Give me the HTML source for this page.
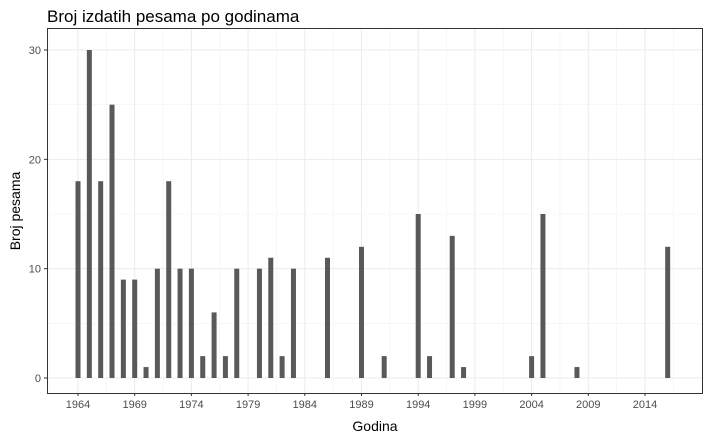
<!DOCTYPE html>
<html><head><meta charset="utf-8"><style>
body{margin:0;background:#fff;font-family:"Liberation Sans",Arial,sans-serif}
</style></head><body>
<svg id="chart" width="708" height="440" xmlns="http://www.w3.org/2000/svg">
<rect width="708" height="440" fill="#fff"/>
<text x="47" y="22" font-size="17" fill="#000">Broj izdatih pesama po godinama</text>
<g id="grid"></g><g id="bars"></g><g id="axes"></g>
<rect x="47.5" y="28.5" width="655" height="365" fill="none" stroke="#333" stroke-width="1"/>
<text x="375" y="431" font-size="14" text-anchor="middle" fill="#000">Godina</text>
<text transform="translate(20,211) rotate(-90)" font-size="14" text-anchor="middle" fill="#000">Broj pesama</text>
</svg>
<script>
const years=[1964,1965,1966,1967,1968,1969,1970,1971,1972,1973,1974,1975,1976,1977,1978,1980,1981,1982,1983,1986,1989,1991,1994,1995,1997,1998,2004,2005,2008,2016];
const counts=[18,30,18,25,9,9,1,10,18,10,10,2,6,2,10,10,11,2,10,11,12,2,15,2,13,1,2,15,1,12];
const xTicks=[1964,1969,1974,1979,1984,1989,1994,1999,2004,2009,2014];
const yTicks=[0,10,20,30];
const ns="http://www.w3.org/2000/svg";
const L=47,R=702,T=28,B=393;
const x=v=>78+(v-1964)*(567/50);
const y=v=>378-v*(328/30);
function mk(tag,attrs,parent,txt){const e=document.createElementNS(ns,tag);for(const k in attrs)e.setAttribute(k,attrs[k]);if(txt!=null)e.textContent=txt;document.getElementById(parent).appendChild(e);return e;}
// minor grid
for(let i=0;i<xTicks.length;i++){const m=xTicks[i]+2.5;if(x(m)<R){const g=mk('line',{x1:x(m),x2:x(m),y1:T,y2:B,stroke:'#f2f2f2','stroke-width':0.6},'grid');}}
const m0=xTicks[0]-2.5;if(x(m0)>L){const g=mk('line',{x1:x(m0),x2:x(m0),y1:T,y2:B,stroke:'#f2f2f2','stroke-width':0.6},'grid');}
for(let i=0;i<yTicks.length;i++){const m=yTicks[i]+5;if(y(m)>T){const g=mk('line',{x1:L,x2:R,y1:y(m),y2:y(m),stroke:'#f2f2f2','stroke-width':0.6},'grid');}}
xTicks.forEach(t=>{const g=mk('line',{x1:x(t),x2:x(t),y1:T,y2:B,stroke:'#ebebeb','stroke-width':1},'grid');
const tk=mk('line',{x1:x(t),x2:x(t),y1:B,y2:B+3,stroke:'#333'},'axes');
const lb=mk('text',{x:x(t),y:B+15,'font-size':11,'text-anchor':'middle',fill:'#4d4d4d'},'axes',t);});
yTicks.forEach(t=>{const g=mk('line',{x1:L,x2:R,y1:y(t),y2:y(t),stroke:'#ebebeb','stroke-width':1},'grid');
const tk=mk('line',{x1:L-3,x2:L,y1:y(t),y2:y(t),stroke:'#333'},'axes');
const lb=mk('text',{x:L-6,y:y(t)+4,'font-size':11,'text-anchor':'end',fill:'#4d4d4d'},'axes',t);});
years.forEach((yr,i)=>{const r=mk('rect',{x:x(yr)-2.5,y:y(counts[i]),width:5,height:y(0)-y(counts[i]),fill:'#595959'},'bars');

});
</script>
</body></html>
